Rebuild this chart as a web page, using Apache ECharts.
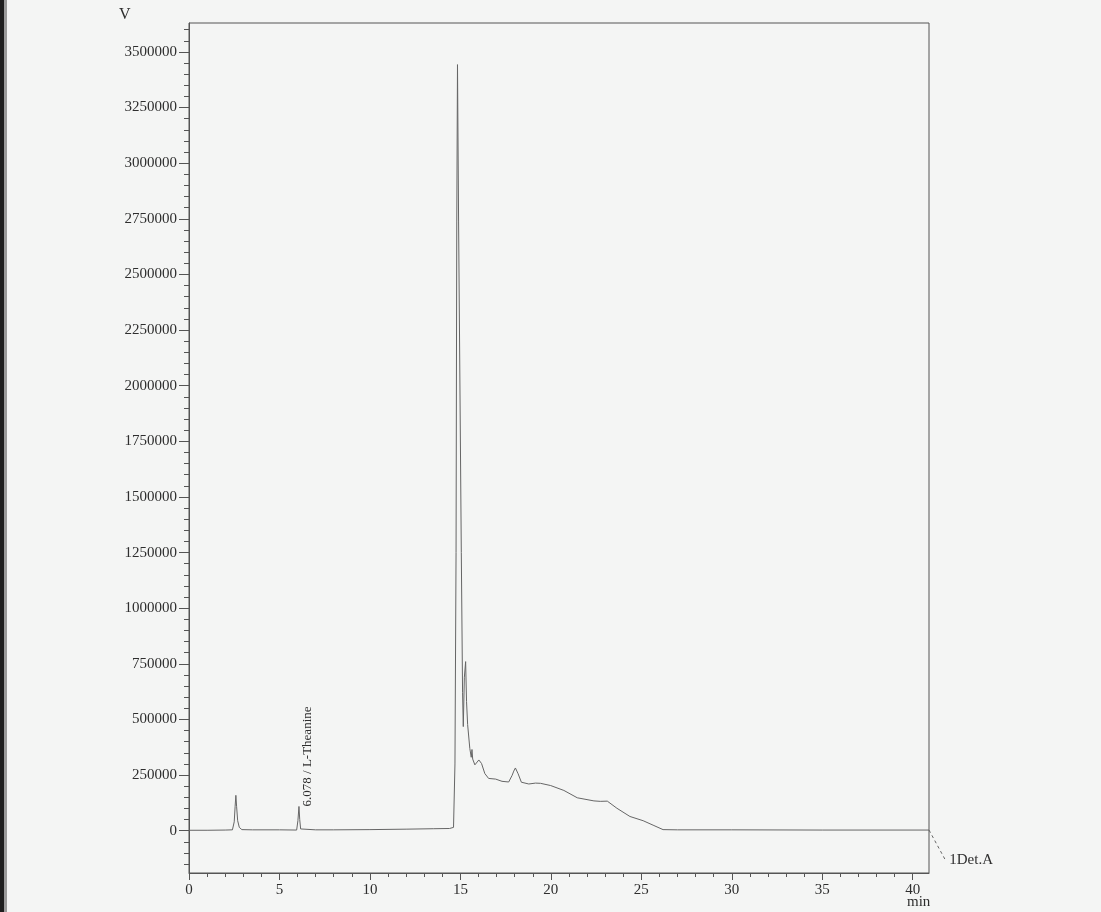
<!DOCTYPE html>
<html>
<head>
<meta charset="utf-8">
<script src="https://cdn.jsdelivr.net/npm/echarts@6/dist/echarts.min.js"></script>
<style>
  html, body { margin: 0; padding: 0; background: #f4f5f4; }
  #chart { width: 1101px; height: 912px; }
</style>
</head>
<body>
<div id="chart"></div>
<script>
// Retention time (min)
const times = [0, 1, 2, 2.40, 2.50, 2.55, 2.59, 2.63, 2.69, 2.78, 2.92, 3.5, 5, 5.95, 6.02, 6.078, 6.12, 6.17, 6.25, 7, 8, 10, 12, 13.5, 14.4, 14.62, 14.70, 14.76, 14.80, 14.84, 14.90, 15.05, 15.12, 15.16, 15.22, 15.29, 15.34, 15.40, 15.52, 15.60, 15.64, 15.68, 15.80, 16.02, 16.17, 16.35, 16.56, 16.95, 17.30, 17.67, 17.86, 17.95, 18.04, 18.19, 18.37, 18.78, 19.15, 19.43, 19.99, 20.72, 21.46, 22.38, 22.73, 23.12, 23.65, 24.37, 25.10, 25.65, 26.2, 27, 30, 35, 40.9];
// Detector signal (V)
const signal = [2000, 2000, 3000, 4000, 40000, 110000, 159000, 110000, 45000, 15000, 5000, 4000, 4000, 3000, 45000, 109000, 50000, 8000, 4000, 4000, 4000, 5000, 7000, 9000, 10000, 15000, 300000, 1250000, 2740000, 3443000, 2740000, 1250000, 620000, 468000, 690000, 760000, 580000, 477000, 370000, 330000, 365000, 322000, 296000, 318000, 302000, 257000, 235000, 232000, 222000, 219000, 249000, 268000, 282000, 256000, 218000, 210000, 214000, 213000, 203000, 181000, 148000, 134000, 132000, 133000, 101000, 64000, 45000, 25000, 5000, 4000, 4000, 3000, 3000];

const xTickLabels = [0, 5, 10, 15, 20, 25, 30, 35, 40];
const yTickLabels = [0, 250000, 500000, 750000, 1000000, 1250000, 1500000, 1750000, 2000000, 2250000, 2500000, 2750000, 3000000, 3250000, 3500000];
const peakLabels = [{ time: 6.078, text: '6.078 / L-Theanine' }];
const detectorLabel = '1Det.A';
const detectorLeaderEnd = [41.8, -131000];   // where the dashed leader to the detector label ends

const X_MIN = 0, X_MAX = 40.9, Y_MIN = -190000, Y_MAX = 3630000;
const xMinor = []; for (let v = 0; v <= 40; v += 1) xMinor.push(v);
const yMinor = []; for (let v = -150000; v <= 3600000; v += 50000) yMinor.push(v);

const FONT = 'Liberation Serif';
const TXT = '#2e2e2e';
const AX = '#555';

const seriesData = times.map((t, i) => {
  const pl = peakLabels.find(p => p.time === t);
  if (!pl) return [t, signal[i]];
  return {
    value: [t, signal[i]],
    symbol: 'circle', symbolSize: 0,
    label: {
      show: true, formatter: pl.text, position: 'right', distance: 9, rotate: 90,
      align: 'left', verticalAlign: 'middle',
      fontFamily: FONT, fontSize: 13, color: TXT
    }
  };
});

const baseGraphic = [
  { id: 'edge1', type: 'rect', left: 0, top: 0, shape: { width: 4, height: 912 }, style: { fill: '#1e1e1e' }, silent: true },
  { id: 'edge2', type: 'rect', left: 4, top: 0, shape: { width: 3, height: 912 }, style: { fill: '#9a9a9a' }, silent: true },
  { id: 'vname', type: 'text', left: 119, top: 7, style: { text: 'V', font: '16px "Liberation Serif"', fill: TXT } },
  { id: 'xname', type: 'text', left: 907, top: 895, style: { text: 'min', font: '15px "Liberation Serif"', fill: TXT } }
];

const chart = echarts.init(document.getElementById('chart'), null, { renderer: 'canvas' });
chart.setOption({
  backgroundColor: '#f4f5f4',
  animation: false,
  grid: { left: 189, right: 172, top: 23, bottom: 39, show: true, borderColor: AX, borderWidth: 1, backgroundColor: 'transparent' },
  xAxis: [{
    type: 'value', min: X_MIN, max: X_MAX,
    axisLine: { show: true, onZero: false, lineStyle: { color: AX, width: 1 } },
    axisTick: { show: true, customValues: xTickLabels, length: 7, lineStyle: { color: AX } },
    axisLabel: { customValues: xTickLabels, margin: 10, fontFamily: FONT, fontSize: 15, color: TXT, formatter: v => String(v) },
    splitLine: { show: false }
  }, {
    type: 'value', min: X_MIN, max: X_MAX, position: 'bottom',
    axisLine: { show: false, onZero: false },
    axisTick: { show: true, customValues: xMinor, length: 4, lineStyle: { color: AX } },
    axisLabel: { show: false },
    splitLine: { show: false }
  }],
  yAxis: [{
    type: 'value', min: Y_MIN, max: Y_MAX,
    axisLine: { show: true, onZero: false, lineStyle: { color: AX, width: 1 } },
    axisTick: { show: true, customValues: yTickLabels, length: 10, lineStyle: { color: AX } },
    axisLabel: { customValues: yTickLabels, margin: 12, fontFamily: FONT, fontSize: 15, color: TXT, formatter: v => String(v) },
    splitLine: { show: false }
  }, {
    type: 'value', min: Y_MIN, max: Y_MAX, position: 'left',
    axisLine: { show: false, onZero: false },
    axisTick: { show: true, customValues: yMinor, length: 5, lineStyle: { color: AX } },
    axisLabel: { show: false },
    splitLine: { show: false }
  }],
  graphic: baseGraphic,
  series: [{
    type: 'line', xAxisIndex: 0, yAxisIndex: 0,
    data: seriesData,
    showSymbol: true, symbol: 'none',
    lineStyle: { color: '#666', width: 1 },
    smooth: false,
    z: 3
  }]
});

// Dashed leader from the end of the trace to the detector label, placed through the axes' own scales
const last = times.length - 1;
const p0 = chart.convertToPixel({ xAxisIndex: 0, yAxisIndex: 0 }, [times[last], signal[last]]);
const p1 = chart.convertToPixel({ xAxisIndex: 0, yAxisIndex: 0 }, detectorLeaderEnd);
chart.setOption({
  graphic: baseGraphic.concat([
    { id: 'leader', type: 'line', shape: { x1: p0[0], y1: p0[1], x2: p1[0], y2: p1[1] },
      style: { stroke: '#666', lineWidth: 1, lineDash: [3, 3] }, silent: true },
    { id: 'det', type: 'text', x: p1[0] + 4, y: p1[1],
      style: { text: detectorLabel, font: '15px "Liberation Serif"', fill: TXT, verticalAlign: 'middle', align: 'left' } }
  ])
});
</script>
</body>
</html>
